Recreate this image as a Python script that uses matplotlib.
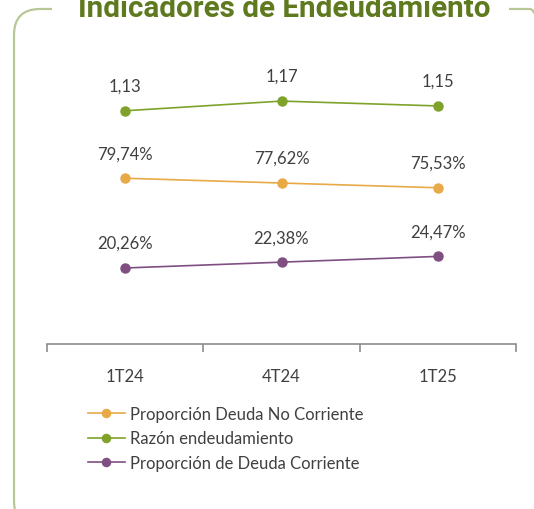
import matplotlib
matplotlib.use('Agg')
import matplotlib.pyplot as plt
from matplotlib.patches import PathPatch
from matplotlib.path import Path
from matplotlib.ticker import FixedLocator

periodos = ['1T24', '4T24', '1T25']
deuda_no_corriente = [0.7974, 0.7762, 0.7553]
razon_endeudamiento = [1.13, 1.17, 1.15]
deuda_corriente = [0.2026, 0.2238, 0.2447]

c_naranja = '#e8a947'
c_verde = '#7fa22b'
c_morado = '#7f4f82'
c_titulo = '#5f7a1e'
c_borde = '#b7c795'
c_texto = '#404040'

plt.rcParams['font.family'] = ['Lato', 'DejaVu Sans']

W, H = 534, 510
fig = plt.figure(figsize=(W / 100, H / 100), dpi=100)

# marco redondeado (en pixeles, origen abajo a la izquierda) con hueco para el titulo
izq, der, arr, aba, r = 14, 556, H - 10, H - 528, 26
verts = [(52, arr), (izq + r, arr), (izq, arr), (izq, arr - r),
         (izq, aba + r), (izq, aba), (izq + r, aba),
         (der - r, aba), (der, aba), (der, aba + r),
         (der, arr - r), (der, arr), (der - r, arr), (509, arr)]
codes = [Path.MOVETO, Path.LINETO, Path.CURVE3, Path.CURVE3,
         Path.LINETO, Path.CURVE3, Path.CURVE3,
         Path.LINETO, Path.CURVE3, Path.CURVE3,
         Path.LINETO, Path.CURVE3, Path.CURVE3, Path.LINETO]
fig.add_artist(PathPatch(Path(verts, codes), fill=False, ec=c_borde, lw=1.6, transform=None))
fig.text(284 / W, (H - 17) / H, 'Indicadores de Endeudamiento', family=['Roboto', 'DejaVu Sans'],
         fontweight='bold', fontsize=21.3, color=c_titulo, ha='center', va='baseline')

x0, x1, y_eje, y_top = 47, 516, 345, 60
rect = [x0 / W, (H - y_eje) / H, (x1 - x0) / W, (y_eje - y_top) / H]
ax = fig.add_axes(rect)
ax.patch.set_alpha(0)
ax2 = ax.twinx()
ax3 = ax.twinx()

x = range(len(periodos))
series = [
    (ax, deuda_no_corriente, c_naranja, 'Proporción Deuda No Corriente', (0.064, 1.325), '{:.2%}'),
    (ax2, razon_endeudamiento, c_verde, 'Razón endeudamiento', (0.166, 1.344), '{:.2f}'),
    (ax3, deuda_corriente, c_morado, 'Proporción de Deuda Corriente', (-0.074, 0.963), '{:.2%}'),
]
handles = []
for a, vals, col, nombre, lim, fmt in series:
    h, = a.plot(x, vals, color=col, lw=1.2, marker='o', ms=6.5, label=nombre)
    handles.append(h)
    a.set_ylim(*lim)
    a.set_xlim(-0.5, 2.5)
    a.set_yticks([])
    for sp in a.spines.values():
        sp.set_visible(False)
    for xi, v in zip(x, vals):
        a.annotate(fmt.format(v).replace('.', ','), (xi, v), xytext=(0, 18),
                   textcoords='offset points', ha='center', va='center',
                   fontsize=12, color=c_texto)

ax.spines['bottom'].set_visible(True)
ax.spines['bottom'].set_color('#8c8c8c')
ax.spines['bottom'].set_linewidth(1.2)
ax.set_xticks(list(x))
ax.set_xticklabels(periodos, fontsize=12, color=c_texto)
ax.xaxis.set_minor_locator(FixedLocator([-0.5, 0.5, 1.5, 2.5]))
ax.tick_params(axis='x', which='major', length=0, pad=17)
ax.tick_params(axis='x', which='minor', length=6, color='#8c8c8c', width=1.2)
ax2.tick_params(axis='x', which='both', length=0, labelbottom=False)
ax3.tick_params(axis='x', which='both', length=0, labelbottom=False)

fig.legend(handles=[handles[0], handles[1], handles[2]], loc='upper left',
           bbox_to_anchor=(88 / W, (H - 407) / H), frameon=False, fontsize=12,
           handlelength=2.2, handletextpad=0.3, labelspacing=0.5, borderpad=0,
           borderaxespad=0, markerscale=0.9, labelcolor=c_texto)

fig.savefig('out.png', dpi=100)
